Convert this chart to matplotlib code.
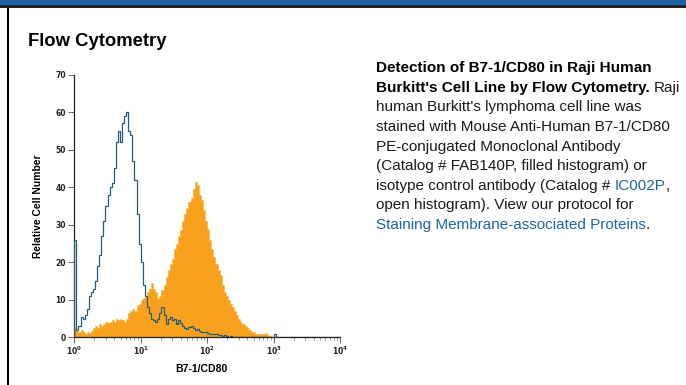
import matplotlib
matplotlib.use("Agg")
import matplotlib.pyplot as plt
import numpy as np
from matplotlib.patches import Rectangle
from matplotlib.ticker import FixedLocator, LogLocator, NullFormatter

plt.rcParams['font.family'] = ['Liberation Sans', 'DejaVu Sans']
plt.rcParams['mathtext.default'] = 'regular'

# histogram channels: 32 per decade over 4 decades (10^0 .. 10^4)
channels_per_decade = 32
n_decades = 4

# isotype control (open histogram)
isotype_counts = [
    26, 2, 3, 5.5, 5, 6, 7.5, 11, 12, 13, 15, 19, 22, 27, 31, 35,
    38, 40, 41, 45, 52, 55, 52, 57, 59, 60, 55, 54, 47, 42, 33, 25,
    20, 14, 11, 8, 6.5, 5, 4.5, 4, 5, 6.5, 8, 6, 3.5, 5, 5.5, 4.5,
    5, 3.5, 4.5, 3.8, 3, 2.5, 2.2, 2.8, 3, 2.5, 2, 2.3, 1.8, 1.5, 1.5, 1.3,
    1.2, 1, 1, 0.8, 1, 0.5, 0.7, 0.4, 0.5, 0.3, 0.2, 0.3, 0.1, 0.2, 0.1, 0,
    0.1, 0, 0, 0.1, 0, 0, 0, 0, 0, 0, 0, 0, 0, 0, 0, 0,
    1, 0, 0, 0, 0, 0, 0, 0, 0, 0, 0, 0, 0, 0, 0, 0,
    0, 0, 0, 0, 0, 0, 0, 0, 0, 0, 0, 0, 0, 0, 0, 0,
]

# FAB140P stained cells (filled histogram)
pe_counts = [
    2.5, 2, 1.5, 2, 1.5, 1, 1.5, 1.2, 1.8, 2.5, 3, 2.5, 3.5, 3, 3.5, 4,
    3.8, 4.2, 4.5, 4, 4.8, 4.5, 5, 4.6, 4.2, 5, 6.5, 7, 7.5, 7, 8.5, 9,
    10, 10.5, 11, 12, 13, 14.5, 13, 12, 10.5, 11, 12.5, 14, 16, 18, 19.5, 21,
    23.5, 25, 27, 28.5, 31, 33, 34.5, 36, 37, 39.5, 41.5, 40.5, 38, 36.5, 34, 31,
    29, 26, 23.5, 21.5, 19.5, 18, 16.5, 14, 12, 11, 10, 9, 8, 7, 6, 5,
    4, 3.5, 3, 2.5, 2, 1.5, 1.5, 1, 1, 0.8, 0.8, 1, 1.2, 0.5, 0.3, 0.2,
    0, 0, 0, 0, 0, 0, 0, 0, 0, 0, 0, 0, 0, 0, 0, 0,
    0, 0, 0, 0, 0, 0, 0, 0, 0, 0, 0, 0, 0, 0, 0, 0,
]

y_ticks = [0, 10, 20, 30, 40, 50, 60, 70]
x_decades = [0, 1, 2, 3, 4]

section_title = "Flow Cytometry"
x_label = "B7-1/CD80"
y_label = "Relative Cell Number"

link_color = "#1f63a8"
# caption lines as (text, weight, color) runs
caption = [
    [("Detection of B7-1/CD80 in Raji Human", "bold", "black")],
    [("Burkitt's Cell Line by Flow Cytometry. ", "bold", "black"), ("Raji", "normal", "#1a1a1a")],
    [("human Burkitt's lymphoma cell line was", "normal", "#1a1a1a")],
    [("stained with Mouse Anti-Human B7-1/CD80", "normal", "#1a1a1a")],
    [("PE-conjugated Monoclonal Antibody", "normal", "#1a1a1a")],
    [("(Catalog # FAB140P, filled histogram) or", "normal", "#1a1a1a")],
    [("isotype control antibody (Catalog # ", "normal", "#1a1a1a"), ("IC002P", "normal", link_color),
     (",", "normal", "#1a1a1a")],
    [("open histogram). View our protocol for", "normal", "#1a1a1a")],
    [("Staining Membrane-associated Proteins", "normal", link_color), (".", "normal", "#1a1a1a")],
]

W, H = 686, 385
fig = plt.figure(figsize=(W / 100, H / 100), dpi=100)
fig.patch.set_facecolor("white")

# page frame: blue banner, rule underneath, left border
fig.add_artist(Rectangle((0, 1 - 4.5 / H), 1, 4.5 / H, transform=fig.transFigure,
                         facecolor="#1c64a6", edgecolor="none"))
fig.add_artist(Rectangle((0, 1 - 7.5 / H), 1, 2 / H, transform=fig.transFigure,
                         facecolor="#222222", edgecolor="none"))
fig.add_artist(Rectangle((7 / W, 0), 2 / W, 1 - 8 / H, transform=fig.transFigure,
                         facecolor="black", edgecolor="none"))

fig.text(28 / W, 1 - 46 / H, section_title, fontsize=13.3, fontweight="bold",
         va="baseline", ha="left")

# histogram panel
ax = fig.add_axes([74.3 / W, 1 - 337.3 / H, (340 - 74.3) / W, (337.3 - 74.7) / H])
edges = 10.0 ** (np.arange(channels_per_decade * n_decades + 1) / channels_per_decade)
ax.stairs(pe_counts, edges, fill=True, facecolor="#f7a11c", edgecolor="#f9b13a",
          linewidth=0.4, zorder=2)
ax.stairs(isotype_counts, edges, color="#2a5a78", linewidth=0.9, zorder=3)

ax.set_xscale("log")
ax.set_xlim(1, 1e4)
ax.set_ylim(0, 70)
for side in ("top", "right"):
    ax.spines[side].set_visible(False)
for side in ("left", "bottom"):
    ax.spines[side].set_color("#222222")
    ax.spines[side].set_linewidth(0.9)

ax.xaxis.set_major_locator(FixedLocator([10.0 ** d for d in x_decades]))
ax.set_xticklabels([f"$10^{{{d}}}$" for d in x_decades])
ax.xaxis.set_minor_locator(LogLocator(base=10, subs=np.arange(2, 10)))
ax.xaxis.set_minor_formatter(NullFormatter())
ax.set_yticks(y_ticks)

ax.tick_params(axis="x", which="major", length=4, width=0.7, color="#666666", pad=1.5,
               labelsize=5.5)
ax.tick_params(axis="x", which="minor", length=2.2, width=0.6, color="#888888")
ax.tick_params(axis="y", which="major", length=4, width=0.7, color="#666666", pad=2,
               labelsize=5.5)
for lab in ax.get_xticklabels() + ax.get_yticklabels():
    lab.set_fontweight("bold")
    lab.set_family(["DejaVu Sans"])
    lab.set_color("#222222")

ax.set_xlabel(x_label, fontsize=7.6, fontweight="bold")
ax.xaxis.set_label_coords(0.48, -0.1)
ax.set_ylabel(y_label, fontsize=7.4, fontweight="bold", labelpad=9)

# caption with mixed bold / link runs
renderer = fig.canvas.get_renderer()


def advance(text, weight, size):
    probe = fig.text(0, 0, text + "|", fontsize=size, fontweight=weight)
    bar = fig.text(0, 0, "|", fontsize=size, fontweight=weight)
    w = probe.get_window_extent(renderer).width - bar.get_window_extent(renderer).width
    probe.remove()
    bar.remove()
    return w


cap_size = 11.0
x0, base0, step = 376, 72.3, 19.6
for i, runs in enumerate(caption):
    x = x0
    y = 1 - (base0 + i * step) / H
    for text, weight, color in runs:
        fig.text(x / W, y, text, fontsize=cap_size, fontweight=weight, color=color,
                 va="baseline", ha="left")
        x += advance(text, weight, cap_size)

fig.savefig("out.png", dpi=100, facecolor="white")
